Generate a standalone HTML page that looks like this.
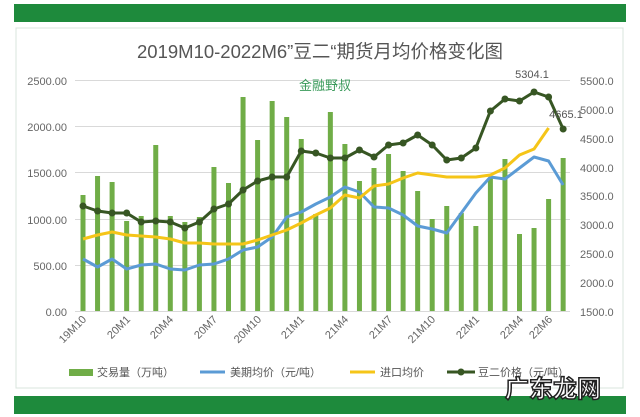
<!DOCTYPE html>
<html><head><meta charset="utf-8"><style>
body{margin:0;background:#fff;width:640px;height:417px;overflow:hidden}
svg{display:block}
text{font-family:"Liberation Sans","Noto Sans CJK SC",sans-serif}
</style></head><body>
<svg id="s" width="640" height="417" xmlns="http://www.w3.org/2000/svg">
<rect x="0" y="0" width="640" height="417" fill="#fff"/>
<rect x="14" y="4" width="612" height="18" fill="#1e8a3c"/>
<rect x="16" y="28" width="607" height="360" fill="#fff" stroke="#d8e4dc" stroke-width="1"/>
<rect x="14" y="396" width="612" height="18" fill="#1e8a3c"/>
<text x="320" y="58" font-size="18.5" fill="#555" text-anchor="middle">2019M10-2022M6”豆二“期货月均价格变化图</text>
<g stroke="#d9d9d9" stroke-width="1">
<line x1="75" x2="570" y1="80.5" y2="80.5"/><line x1="75" x2="570" y1="126.5" y2="126.5"/><line x1="75" x2="570" y1="172.5" y2="172.5"/><line x1="75" x2="570" y1="219.5" y2="219.5"/><line x1="75" x2="570" y1="265.5" y2="265.5"/><line x1="75" x2="570" y1="311.5" y2="311.5"/>
</g>
<g font-size="11" fill="#666" text-anchor="end">
<text x="67" y="85">2500.00</text><text x="67" y="131">2000.00</text><text x="67" y="177">1500.00</text><text x="67" y="224">1000.00</text><text x="67" y="270">500.00</text><text x="67" y="316">0.00</text>
</g>
<g font-size="11" fill="#666">
<text x="580" y="85">5500.0</text><text x="580" y="114">5000.0</text><text x="580" y="143">4500.0</text><text x="580" y="172">4000.0</text><text x="580" y="200">3500.0</text><text x="580" y="229">3000.0</text><text x="580" y="258">2500.0</text><text x="580" y="287">2000.0</text><text x="580" y="316">1500.0</text>
</g>
<text x="325" y="90" font-size="13" fill="#3a9a5a" text-anchor="middle">金融野叔</text>
<g id="bars" fill="#70ad47"></g>
<g id="lines"></g>
<text x="532" y="78" font-size="11" fill="#555" text-anchor="middle">5304.1</text>
<text x="566" y="118" font-size="11" fill="#555" text-anchor="middle">4665.1</text>
<g font-size="11" fill="#666" text-anchor="end">
<text transform="translate(87,320) rotate(-45)">19M10</text>
<text transform="translate(131,320) rotate(-45)">20M1</text>
<text transform="translate(174,320) rotate(-45)">20M4</text>
<text transform="translate(218,320) rotate(-45)">20M7</text>
<text transform="translate(262,320) rotate(-45)">20M10</text>
<text transform="translate(305,320) rotate(-45)">21M1</text>
<text transform="translate(349,320) rotate(-45)">21M4</text>
<text transform="translate(393,320) rotate(-45)">21M7</text>
<text transform="translate(436,320) rotate(-45)">21M10</text>
<text transform="translate(480,320) rotate(-45)">22M1</text>
<text transform="translate(524,320) rotate(-45)">22M4</text>
<text transform="translate(553,320) rotate(-45)">22M6</text>
</g>
<g font-size="11" fill="#555">
<rect x="69" y="369" width="24" height="7" fill="#70ad47"/><text x="97" y="376">交易量（万吨）</text>
<line x1="200" x2="225" y1="372" y2="372" stroke="#5b9bd5" stroke-width="3"/><text x="230" y="376">美期均价（元/吨）</text>
<line x1="350" x2="375" y1="372" y2="372" stroke="#f5c518" stroke-width="3"/><text x="380" y="376">进口均价</text>
<line x1="447" x2="475" y1="372" y2="372" stroke="#375623" stroke-width="3"/><circle cx="461" cy="372" r="3.5" fill="#375623"/><text x="478" y="376">豆二价格（元/吨）</text>
</g>
<text x="553" y="397" font-size="24" font-weight="bold" fill="#fff" stroke="#222" stroke-width="1.5" text-anchor="middle">广东龙网</text>
</svg>
<script>
var bars=[195,176,182,221,216,145,216,222,217,167,183,97,140,101,117,139,214,112,144,181,168,154,171,191,219,206,213,226,178,159,234,228,199,158];
var dark=[206,211,213,213,222,221,222,228,222,209,204,190,181,177,177,151,153,158,158,150,157,145,143,135,145,160,158,148,111,99,101,92,97,129];
var yel=[239,235,232,235,236,237,239,243,243,244,244,244,240,235,230,223,215,208,195,198,186,184,178,173,175,177,177,177,175,168,155,149,128];
var blu=[259,267,259,269,265,264,269,270,265,264,259,250,247,237,217,212,204,197,187,192,207,208,215,226,229,233,213,193,177,179,168,157,161,185];
var X=function(i){return 83+14.55*i};
var ns="http://www.w3.org/2000/svg",b=document.getElementById('bars'),l=document.getElementById('lines');
bars.forEach(function(y,i){var r=document.createElementNS(ns,'rect');r.setAttribute('x',X(i)-2.5);r.setAttribute('y',y);r.setAttribute('width',5);r.setAttribute('height',311-y);b.appendChild(r);});
function pl(a,c,w){var p=document.createElementNS(ns,'polyline');p.setAttribute('points',a.map(function(y,i){return X(i)+','+y}).join(' '));p.setAttribute('fill','none');p.setAttribute('stroke',c);p.setAttribute('stroke-width',w);p.setAttribute('stroke-linejoin','round');l.appendChild(p);}
pl(blu,'#5b9bd5',3);pl(yel,'#f5c518',3);pl(dark,'#375623',3);
dark.forEach(function(y,i){var c=document.createElementNS(ns,'circle');c.setAttribute('cx',X(i));c.setAttribute('cy',y);c.setAttribute('r',3.5);c.setAttribute('fill','#375623');l.appendChild(c);});
</script>
</body></html>
